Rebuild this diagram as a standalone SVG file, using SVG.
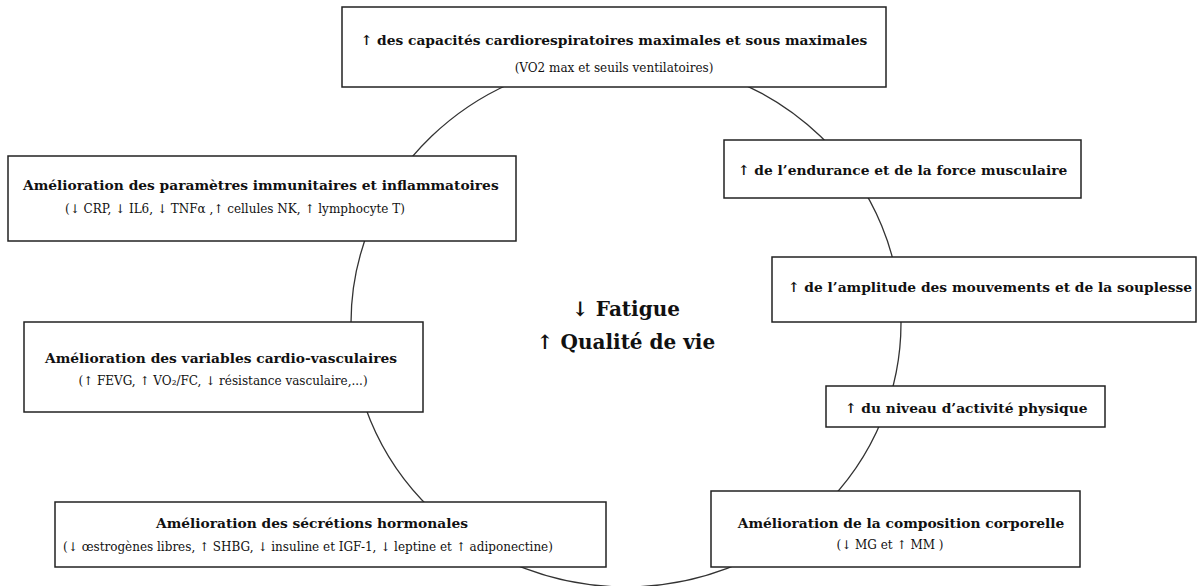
<svg xmlns="http://www.w3.org/2000/svg" width="1198" height="586" viewBox="0 0 1198 586">
<style>
.box{fill:#fff;stroke:#222;stroke-width:1.5}
.b{font-family:"DejaVu Serif","Liberation Serif",serif;font-weight:bold;font-size:13.8px;fill:#111}
.r{font-family:"DejaVu Serif","Liberation Serif",serif;font-size:12px;fill:#111}
.c{font-family:"DejaVu Serif","Liberation Serif",serif;font-weight:bold;font-size:20px;fill:#111}
.m{text-anchor:middle}
.ring{fill:none;stroke:#333;stroke-width:1.3}
</style>
<rect width="1198" height="586" fill="#fff"/>
<g id="connectors">
<ellipse class="ring" cx="626" cy="323" rx="275" ry="264"/>
</g>
<g id="center">
<text class="c m" x="626" y="316">↓ Fatigue</text>
<text class="c m" x="626" y="349">↑ Qualité de vie</text>
</g>
<g id="n-cardioresp">
<rect class="box" x="342" y="7" width="544" height="80"/>
<text class="b m" x="614" y="45">↑ des capacités cardiorespiratoires maximales et sous maximales</text>
<text class="r m" x="614" y="72">(VO2 max et seuils ventilatoires)</text>
</g>
<g id="n-immun">
<rect class="box" x="8" y="156" width="508" height="85"/>
<text class="b" x="23" y="190">Amélioration des paramètres immunitaires et inflammatoires</text>
<text class="r" x="65" y="213">(↓ CRP, ↓ IL6, ↓ TNFα ,↑ cellules NK, ↑ lymphocyte T)</text>
</g>
<g id="n-cardio">
<rect class="box" x="24" y="322" width="399" height="90"/>
<text class="b" x="45" y="363">Amélioration des variables cardio-vasculaires</text>
<text class="r m" x="223" y="385">(↑ FEVG, ↑ VO₂/FC, ↓ résistance vasculaire,...)</text>
</g>
<g id="n-hormon">
<rect class="box" x="55" y="502" width="551" height="65"/>
<text class="b m" x="312" y="528">Amélioration des sécrétions hormonales</text>
<text class="r m" x="308" y="551">(↓ œstrogènes libres, ↑ SHBG, ↓ insuline et IGF-1, ↓ leptine et ↑ adiponectine)</text>
</g>
<g id="n-endurance">
<rect class="box" x="724" y="140" width="357" height="58"/>
<text class="b" x="738" y="175">↑ de l’endurance et de la force musculaire</text>
</g>
<g id="n-amplitude">
<rect class="box" x="772" y="257" width="424" height="65"/>
<text class="b" x="788" y="292">↑ de l’amplitude des mouvements et de la souplesse</text>
</g>
<g id="n-activite">
<rect class="box" x="826" y="386" width="279" height="41"/>
<text class="b" x="845" y="413">↑ du niveau d’activité physique</text>
</g>
<g id="n-composition">
<rect class="box" x="711" y="491" width="369" height="76"/>
<text class="b m" x="901" y="528">Amélioration de la composition corporelle</text>
<text class="r m" x="890" y="549">(↓ MG  et ↑ MM )</text>
</g>
</svg>
